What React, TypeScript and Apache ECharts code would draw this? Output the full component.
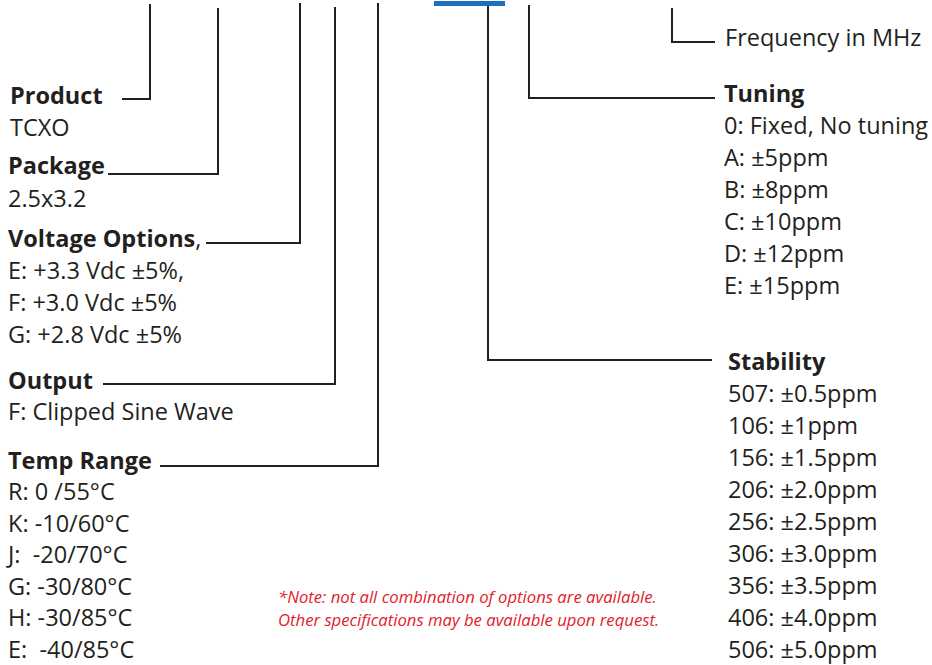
import React, { useEffect, useRef } from "react";
import * as echarts from "echarts";

// ---- content ----
const productTitle = "Product";
const productItems = ["TCXO"];
const packageTitle = "Package";
const packageItems = ["2.5x3.2"];
const voltageTitle = "Voltage Options";
const voltageItems = ["E: +3.3 Vdc ±5%,", "F: +3.0 Vdc ±5%", "G: +2.8 Vdc ±5%"];
const outputTitle = "Output";
const outputItems = ["F: Clipped Sine Wave"];
const tempTitle = "Temp Range";
const tempItems = ["R: 0 /55°C", "K: -10/60°C", "J:  -20/70°C", "G: -30/80°C", "H: -30/85°C", "E:  -40/85°C"];
const freqLabel = "Frequency in MHz";
const tuningTitle = "Tuning";
const tuningItems = ["0: Fixed, No tuning", "A: ±5ppm", "B: ±8ppm", "C: ±10ppm", "D: ±12ppm", "E: ±15ppm"];
const stabilityTitle = "Stability";
const stabilityItems = [
  "507: ±0.5ppm", "106: ±1ppm", "156: ±1.5ppm", "206: ±2.0ppm", "256: ±2.5ppm",
  "306: ±3.0ppm", "356: ±3.5ppm", "406: ±4.0ppm", "506: ±5.0ppm",
];
const noteLines = [
  "*Note: not all combination of options are available.",
  "Other specifications may be available upon request.",
];

// ---- layout ----
const FONT = "'Open Sans', 'Noto Sans', sans-serif";
const INK = "#231f20";
const FS = 23.5;
const STEP = 32;
const DY = -1.5;

export default function App() {
  const ref = useRef<HTMLDivElement>(null);
  useEffect(() => {
    document.body.style.margin = "0";
    const chart = echarts.init(ref.current!, null, { renderer: "svg" });
    const els: any[] = [];
    const txt = (s: string, x: number, y: number, bold = false, extra: any = {}) =>
      els.push({
        type: "text",
        x,
        y: y + DY,
        style: {
          text: s,
          fill: INK,
          font: `${bold ? "bold " : ""}${FS}px ${FONT}`,
          lineHeight: 22,
          verticalAlign: "middle",
          align: "left",
          ...extra,
        },
      });
    const list = (items: string[], x: number, y0: number, step = STEP) =>
      items.forEach((s, i) => txt(s, x, y0 + i * step));
    const line = (pts: number[][]) =>
      els.push({
        type: "polyline",
        shape: { points: pts },
        style: { stroke: INK, lineWidth: 2, fill: null },
      });

    // left column
    txt(productTitle, 10, 96, true);
    list(productItems, 10, 128);
    txt(packageTitle, 8, 166, true);
    list(packageItems, 8, 199);
    els.push({
      type: "text",
      x: 8,
      y: 239 + DY,
      style: {
        text: `{b|${voltageTitle}}{r|,}`,
        verticalAlign: "middle",
        rich: {
          b: { font: `bold ${FS}px ${FONT}`, fill: INK, lineHeight: 22 },
          r: { font: `${FS}px ${FONT}`, fill: INK, lineHeight: 22 },
        },
      },
    });
    list(voltageItems, 8, 271);
    txt(outputTitle, 8, 381, true);
    list(outputItems, 8, 412);
    txt(tempTitle, 8, 461, true);
    list(tempItems, 8, 492.5, 31.5);

    // right column
    txt(freqLabel, 725, 38);
    txt(tuningTitle, 724, 94, true);
    list(tuningItems, 724, 126);
    txt(stabilityTitle, 728, 362, true);
    list(stabilityItems, 728, 394);

    // note
    noteLines.forEach((s, i) =>
      txt(s, 278, 597.5 + i * 23, false, {
        fill: "#e3202c",
        font: `italic 16.7px ${FONT}`,
        lineHeight: 18,
      })
    );

    // connector lines
    line([[150, 4], [150, 99], [122, 99]]);
    line([[218, 8], [218, 174], [108, 174]]);
    line([[300, 3], [300, 243], [206, 243]]);
    line([[335, 7], [335, 384], [103, 384]]);
    line([[378, 3], [378, 466], [160, 466]]);
    line([[488, 4], [488, 360], [712, 360]]);
    line([[529, 5], [529, 98], [715, 98]]);
    line([[672, 8], [672, 42], [715, 42]]);
    els.push({
      type: "line",
      shape: { x1: 434, y1: 3.5, x2: 505, y2: 3.5 },
      style: { stroke: "#1b70c1", lineWidth: 5 },
    });

    chart.setOption({ animation: false, graphic: { elements: els } });
    return () => chart.dispose();
  }, []);
  return <div ref={ref} style={{ width: 932, height: 665, background: "#fff" }} />;
}
